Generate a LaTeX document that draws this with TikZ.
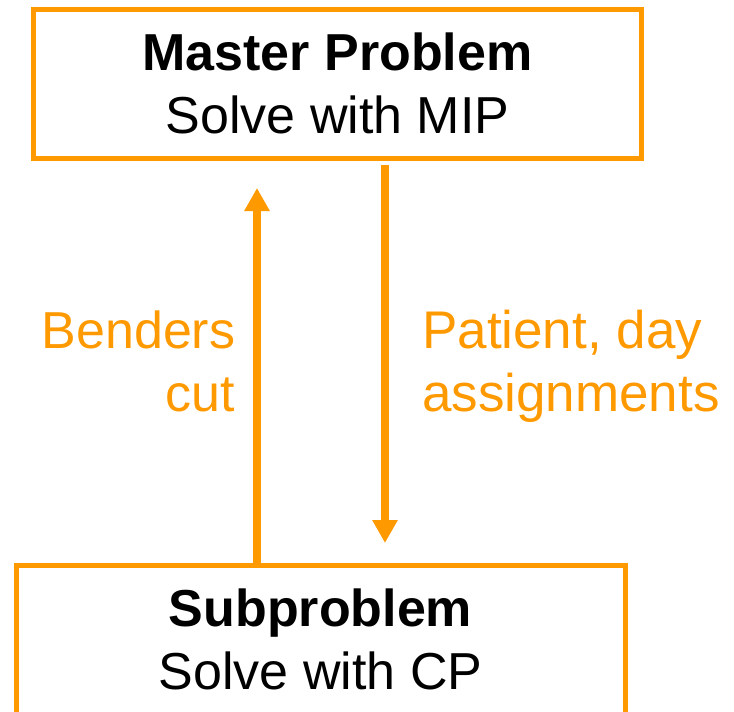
\documentclass[tikz,border=0pt]{standalone}
\usepackage{fontspec}
\setmainfont{Liberation Sans}
\usetikzlibrary{arrows.meta}
\definecolor{benders}{HTML}{FF9900}

\begin{document}
\begin{tikzpicture}[x=1pt, y=-1pt,
    box/.style={draw=benders, line width=5pt, minimum width=608pt, minimum height=149pt,
                inner sep=0pt, outer sep=0pt, align=center, font=\fontsize{52}{62.5}\selectfont},
    flow/.style={color=benders, line width=7.5pt, -{Triangle[length=23pt, width=24pt]}},
    lbl/.style={text=benders, inner sep=0pt, font=\fontsize{52}{63}\selectfont}]

    \useasboundingbox (0,0) rectangle (734,712);

    \node [box] (master) at (337.5, 83.5) {\textbf{Master Problem}\\Solve with MIP};
    \node [box, minimum width=609pt] (sub) at (320.5, 639.5) {\textbf{Subproblem}\\Solve with CP};
    \node [lbl, align=right, anchor=east] (cut) at (235.5, 361) {Benders\\cut};
    \node [lbl, align=left, anchor=west, font=\fontsize{53}{63}\selectfont] (assign) at (422, 366.5) {Patient, day\\assignments};

    \draw [flow] ([xshift=-63.5pt]sub.north) -- ([xshift=-80.5pt, yshift=-30pt]master.south);
    \draw [flow] ([xshift=47.5pt, yshift=-7pt]master.south) -- ([xshift=64.5pt, yshift=22pt]sub.north);
\end{tikzpicture}
\end{document}
